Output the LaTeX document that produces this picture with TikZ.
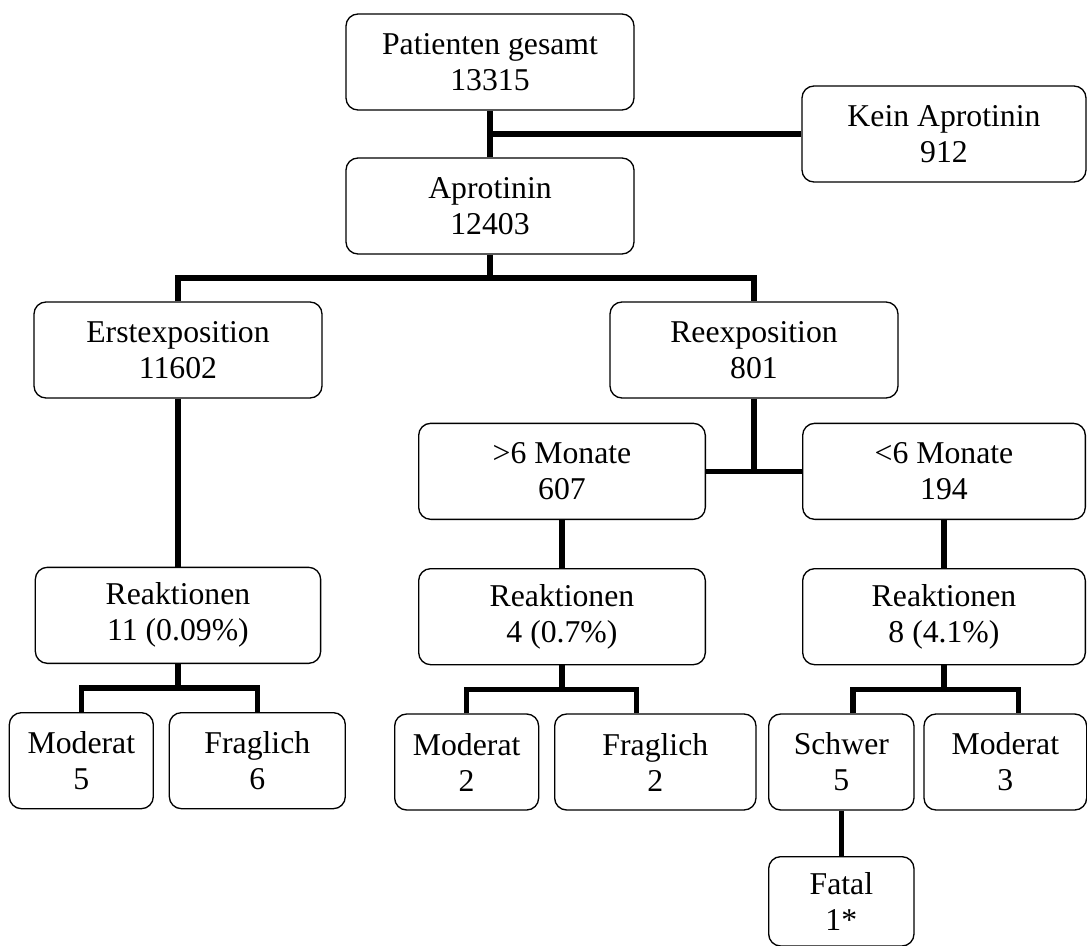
\documentclass[tikz,border=0pt]{standalone}
\usepackage{fontspec}
\setmainfont{Liberation Serif}
\usepackage{tikz}
\usetikzlibrary{positioning, calc}

\begin{document}
\begin{tikzpicture}[
  node distance=35pt,
  box/.style={draw=black, line width=1pt, fill=white, rounded corners=9pt,
              minimum height=72pt, align=center, inner sep=2pt,
              font=\fontsize{23.8pt}{27pt}\selectfont},
  link/.style={line width=4.2pt}
]
  \useasboundingbox (-367.5pt,46.5pt) rectangle (447.75pt,-662.25pt);

  % Top layer
  \node[box, minimum width=216pt] (total) {Patienten gesamt\\13315};
  \node[box, minimum width=216pt, below=of total] (apro) {Aprotinin\\12403};
  \node[box, minimum width=213pt, right=125pt of total, yshift=-54pt] (noapro) {Kein Aprotinin\\912};

  % Exposition
  \node[box, minimum width=216pt, below left=35pt and 17pt of apro] (first) {Erstexposition\\11602};
  \node[box, minimum width=216pt, below=of apro, xshift=198pt] (re) {Reexposition\\801};

  % Interval
  \node[box, minimum width=215pt, below=18pt of re, xshift=-144pt] (late) {>6 Monate\\607};
  \node[box, minimum width=212pt, right=72pt of late] (early) {<6 Monate\\194};

  % Reactions
  \node[box, minimum width=214pt, below=126pt of first] (reacA) {Reaktionen\\11 (0.09\%)};
  \node[box, minimum width=215pt, below=36pt of late] (reacB) {Reaktionen\\4 (0.7\%)};
  \node[box, minimum width=212pt, below=36pt of early] (reacC) {Reaktionen\\8 (4.1\%)};

  % Severity
  \node[box, minimum width=108pt, below=36pt of reacA.south west,
        anchor=north west, xshift=-19.5pt] (modA) {Moderat\\5};
  \node[box, minimum width=132pt, right=11pt of modA] (doubtA) {Fraglich\\6};
  \node[box, minimum width=108pt, below=36pt of reacB.south west,
        anchor=north west, xshift=-18pt] (modB) {Moderat\\2};
  \node[box, minimum width=151pt, right=11pt of modB] (doubtB) {Fraglich\\2};
  \node[box, minimum width=109pt, below=36pt of reacC.south west,
        anchor=north west, xshift=-25.5pt] (severe) {Schwer\\5};
  \node[box, minimum width=122pt, right=6.5pt of severe] (modC) {Moderat\\3};
  \node[box, minimum width=109pt, minimum height=67pt, below=34pt of severe] (fatal) {Fatal\\1*};

  % Lines
  \draw[link] (total.south) -- (apro.north);
  \draw[link] (noapro.west) -- (noapro.west -| total.south);

  \coordinate (split) at ($(apro.south)!0.5!(first.north)$);
  \draw[link] (apro.south) -- (apro.south |- split);
  \draw[link] (first.north) |- (split) -| (re.north);

  \draw[link] (re.south) -- (re.south |- late.east);
  \draw[link] (late.east) -- (early.west);

  \draw[link] (first.south) -- (reacA.north);
  \draw[link] (late.south) -- (reacB.north);
  \draw[link] (early.south) -- (reacC.north);

  \coordinate (splitA) at ($(reacA.south)!0.5!(modA.north)$);
  \draw[link] (reacA.south) -- (reacA.south |- splitA);
  \draw[link] (modA.north) |- (splitA) -| (doubtA.north);

  \coordinate (splitB) at ($(reacB.south)!0.5!(modB.north)$);
  \draw[link] (reacB.south) -- (reacB.south |- splitB);
  \draw[link] (modB.north) |- (splitB) -| ([xshift=-14pt]doubtB.north);

  \coordinate (splitC) at ($(reacC.south)!0.5!(severe.north)$);
  \draw[link] (reacC.south) -- (reacC.south |- splitC);
  \draw[link] ([xshift=8.6pt]severe.north) |- (splitC) -| ([xshift=10pt]modC.north);

  \draw[link] (severe.south) -- (fatal.north);
\end{tikzpicture}
\end{document}
